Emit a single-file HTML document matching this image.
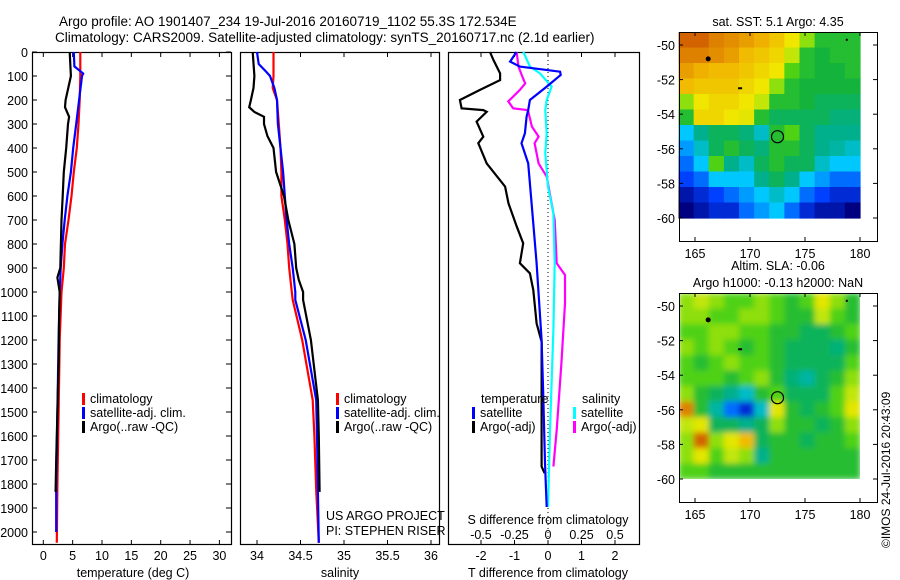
<!DOCTYPE html>
<html><head><meta charset="utf-8">
<style>
html,body{margin:0;padding:0;background:#fff;}
svg{display:block;font-family:"Liberation Sans",sans-serif;}
text{fill:#000;}
</style></head>
<body>
<svg id="fig" width="900" height="580" viewBox="0 0 900 580" xmlns="http://www.w3.org/2000/svg">
<defs>
<filter id="blur" x="-5%" y="-5%" width="110%" height="110%"><feGaussianBlur stdDeviation="3" edgeMode="duplicate"/></filter>
<clipPath id="slaclip"><rect x="679" y="293" width="181" height="186"/></clipPath>
</defs>
<text x="59" y="26" font-size="13.5">Argo profile: AO 1901407_234 19-Jul-2016 20160719_1102 55.3S 172.534E</text>
<text x="55" y="42" font-size="13.5">Climatology: CARS2009. Satellite-adjusted climatology: synTS_20160717.nc (2.1d earlier)</text>
<g id="g"></g>
<text transform="translate(890,548) rotate(-90)" font-size="12">©IMOS 24-Jul-2016 20:43:09</text>
</svg>
<script>
// ---------- DATA ----------
const depthTicks=[0,100,200,300,400,500,600,700,800,900,1000,1100,1200,1300,1400,1500,1600,1700,1800,1900,2000];
const tempTicks=[0,5,10,15,20,25,30];
const salTicks=[34,34.5,35,35.5,36];
const tdiffTicks=[-2,-1,0,1,2];
const sdiffTicks=[-0.5,-0.25,0,0.25,0.5];
const sdiffTickLabels=["-0.5","-0.25","0","0.25","0.5"];

const tClimDepth=[0,100,200,300,400,500,600,700,800,900,1000,1200,1500,1800,2045];
const tClim=[6.3,6.3,6.2,6.0,5.7,5.2,4.8,4.3,3.7,3.5,3.1,2.8,2.6,2.4,2.3];
const tSatDepth=[0,60,80,90,100,200,300,400,500,600,700,800,900,1000,1200,1500,1800,2000];
const tSat=[5.2,5.3,6.3,6.8,6.6,6.1,5.6,5.1,4.7,4.1,3.65,3.25,2.96,2.8,2.6,2.4,2.2,2.2];
const tArgoDepth=[0,100,200,230,270,300,400,500,600,700,800,900,940,1000,1100,1300,1500,1700,1833];
const tArgo=[4.5,4.7,3.8,3.7,4.4,4.2,3.9,3.5,3.3,3.1,3.0,2.9,2.4,2.8,2.7,2.6,2.4,2.2,2.1];

const sClimDepth=[0,100,150,200,300,400,500,600,700,800,900,1000,1033,1200,1450,1600,1825,2045];
const sClim=[34.19,34.19,34.18,34.23,34.25,34.27,34.28,34.28,34.32,34.35,34.37,34.4,34.41,34.52,34.64,34.66,34.68,34.71];
const sSatDepth=[0,50,80,100,150,200,300,400,500,600,700,800,900,1000,1033,1200,1450,1600,1825,2045];
const sSat=[34.0,34.02,34.1,34.15,34.2,34.23,34.24,34.27,34.3,34.32,34.34,34.37,34.41,34.44,34.44,34.56,34.68,34.69,34.70,34.71];
const sArgoDepth=[0,100,150,200,230,250,270,300,350,400,500,600,700,800,900,950,1000,1033,1200,1450,1600,1833];
const sArgo=[33.95,33.97,33.96,33.93,33.91,33.97,34.08,34.08,34.12,34.19,34.22,34.31,34.36,34.43,34.45,34.48,34.53,34.53,34.62,34.70,34.71,34.72];

const dTArgoDepth=[0,33,89,117,158,200,235,242,249,290,353,380,464,561,631,728,797,880,922,992,1131,1207,1727,1755];
const dTArgo=[-1.73,-1.63,-1.43,-1.43,-2.03,-2.63,-2.58,-1.93,-1.83,-2.13,-1.93,-2.08,-1.83,-1.28,-1.18,-0.93,-0.74,-0.84,-0.54,-0.44,-0.34,-0.19,-0.19,-0.1];
const dTSatDepth=[0,40,61,82,96,144,200,242,269,339,380,464,631,880,1200,1436,1714,1896];
const dTSat=[-0.94,-1.13,-0.84,0.36,0.38,-0.04,-0.54,-0.59,-0.64,-0.69,-0.79,-0.59,-0.49,-0.34,-0.19,-0.14,-0.09,-0.04];
const dSSatDepth=[0,61,89,144,200,242,339,422,561,672,880,1158,1575,1896];
const dSSat=[-0.184,-0.134,-0.06,0.027,-0.01,-0.02,-0.01,-0.02,0.0,0.04,0.05,0.04,0.015,0.0];
const dSArgoDepth=[0,61,96,131,158,206,235,242,311,353,380,464,519,631,700,880,929,1047,1297,1575,1727];
const dSArgo=[-0.234,-0.22,-0.196,-0.17,-0.21,-0.296,-0.26,-0.15,-0.12,-0.07,-0.1,-0.07,-0.01,0.027,0.05,0.065,0.127,0.127,0.1,0.065,0.04];

const mapLonTicks=[165,170,175,180];
const mapLatTicks=[-50,-52,-54,-56,-58,-60];
const sstGrid=[
[.95,.95,.9,.88,.85,.82,.78,.72,.6,.5,.5,.5],
[.9,.9,.88,.85,.8,.78,.75,.65,.5,.48,.5,.5],
[.85,.82,.8,.8,.78,.75,.72,.55,.5,.48,.48,.5],
[.8,.78,.78,.78,.75,.72,.6,.5,.48,.48,.48,.48],
[.6,.72,.75,.75,.72,.65,.5,.5,.48,.45,.45,.45],
[.5,.75,.75,.72,.7,.5,.45,.45,.45,.45,.42,.42],
[.3,.4,.45,.45,.42,.35,.5,.55,.45,.4,.4,.4],
[.25,.35,.45,.5,.45,.42,.5,.5,.45,.4,.38,.35],
[.2,.3,.55,.4,.35,.45,.5,.45,.45,.35,.3,.3],
[.15,.2,.3,.3,.3,.4,.45,.4,.3,.25,.2,.2],
[.05,.1,.15,.2,.25,.3,.35,.3,.2,.15,.1,.1],
[0,.05,.1,.1,.2,.25,.3,.2,.1,.05,.05,0]];
const slaGrid=[
[.6,.65,.6,.55,.55,.6,.55,.5,.55,.7,.6,.5],
[.6,.6,.55,.55,.6,.6,.55,.5,.5,.65,.55,.5],
[.55,.55,.6,.6,.55,.55,.5,.5,.45,.45,.5,.55],
[.6,.55,.6,.55,.5,.55,.5,.45,.45,.45,.42,.5],
[.55,.5,.55,.6,.55,.55,.5,.45,.45,.45,.45,.55],
[.55,.55,.55,.5,.55,.6,.5,.42,.38,.45,.5,.6],
[.6,.5,.45,.4,.35,.5,.55,.45,.45,.45,.55,.65],
[.9,.5,.38,.2,.1,.35,.7,.5,.45,.5,.55,.7],
[.65,.7,.45,.45,.4,.45,.6,.5,.5,.45,.5,.6],
[.6,.95,.6,.7,.8,.45,.5,.5,.45,.5,.5,.55],
[.6,.7,.55,.65,.6,.4,.5,.5,.5,.5,.5,.5],
[.55,.55,.5,.5,.5,.5,.5,.5,.5,.5,.5,.5]];
const floatLon=[172.5];
const floatLat=[-55.3];

// ---------- DRAW ----------
const NS="http://www.w3.org/2000/svg";
const G=document.getElementById('g');
function mk(tag,at,parent){const e=document.createElementNS(NS,tag);for(const k in at)e.setAttribute(k,at[k]);(parent||G).appendChild(e);return e;}
function txt(x,y,s,size,anchor){const t=mk('text',{x:x,y:y,'font-size':size||12,'text-anchor':anchor||'start'});t.textContent=s;return t;}

const Y=d=>52+0.24*d;
const xT=v=>43.3+5.87*v;
const xS=v=>257+87*(v-34);
const xDT=v=>548+33.5*v;
const xDS=v=>548+134*v;

function panel(x0,x1,name){
  const r=mk('rect',{x:x0+0.5,y:52.5,width:x1-x0,height:492,fill:'none',stroke:'#000','stroke-width':1.2});
  
  
}
function line(ds,vs,sx,color,name){
  let p='';ds.forEach((d,i)=>{p+=(i?'L':'M')+sx(vs[i]).toFixed(1)+' '+Y(d).toFixed(1);});
  const e=mk('path',{d:p,fill:'none',stroke:color,'stroke-width':2.2,'stroke-linejoin':'miter'});
  
  
}
function xticks(ticks,labels,sx,ty){
  ticks.forEach((t,i)=>{const x=sx(t);
    mk('line',{x1:x,x2:x,y1:545,y2:540,stroke:'#000'});
    mk('line',{x1:x,x2:x,y1:52,y2:57,stroke:'#000'});
    const l=txt(x,ty,labels[i],12.5,'middle');
    
    
  });
}

// panel 1
panel(32,231,'temperature-panel');
depthTicks.forEach(d=>{const y=Y(d);
  mk('line',{x1:32,x2:37,y1:y,y2:y,stroke:'#000'});
  mk('line',{x1:226,x2:231,y1:y,y2:y,stroke:'#000'});
  const l=txt(28,y+5,String(d),12.5,'end');
  
  
});
xticks(tempTicks,tempTicks.map(String),xT,560);
const xl1=txt(133,577,'temperature (deg C)',12.5,'middle');


line(tClimDepth,tClim,xT,'#ff0000','temp-climatology-line');
line(tSatDepth,tSat,xT,'#0000ff','temp-satellite-line');
line(tArgoDepth,tArgo,xT,'#000000','temp-argo-line');

// panel 2
panel(240,439,'salinity-panel');
xticks(salTicks,["34","34.5","35","35.5","36"],xS,560);
const xl2=txt(340,577,'salinity',12.5,'middle');


line(sClimDepth,sClim,xS,'#ff0000','sal-climatology-line');
line(sSatDepth,sSat,xS,'#0000ff','sal-satellite-line');
line(sArgoDepth,sArgo,xS,'#000000','sal-argo-line');
const c1=txt(326,520,'US ARGO PROJECT',12.5);


const c2=txt(326,535,'PI: STEPHEN RISER',12.5);



// panel 3
panel(448,639,'difference-panel');
mk('line',{x1:548,x2:548,y1:52,y2:545,stroke:'#000','stroke-dasharray':'1,3'});
xticks(tdiffTicks,tdiffTicks.map(String),xDT,560);
sdiffTicks.forEach((t,i)=>{const l=txt(xDS(t),539,sdiffTickLabels[i],12.5,'middle');
  
  });
const s3=txt(548,524,'S difference from climatology',12.5,'middle');


const t3=txt(548,577,'T difference from climatology',12.5,'middle');


line(dTArgoDepth,dTArgo,xDT,'#000000','tdiff-argo-line');
line(dSArgoDepth,dSArgo,xDS,'#ff00ff','sdiff-argo-line');
line(dSSatDepth,dSSat,xDS,'#00ffff','sdiff-satellite-line');
line(dTSatDepth,dTSat,xDT,'#0000ff','tdiff-satellite-line');

// legends
function legend(x,y,color,label){
  const g=mk('g',{});
  
  
  mk('rect',{x:x,y:y-10,width:3,height:12,fill:color},g);
  const t=mk('text',{x:x+8,y:y,'font-size':12.5},g);t.textContent=label;
}
legend(82,403,'#ff0000','climatology');
legend(82,417,'#0000ff','satellite-adj. clim.');
legend(82,431,'#000000','Argo(..raw -QC)');
legend(336,403,'#ff0000','climatology');
legend(336,417,'#0000ff','satellite-adj. clim.');
legend(336,431,'#000000','Argo(..raw -QC)');
const lt=txt(481,403,'temperature',12.5);
const ls=txt(582,403,'salinity',12.5);
legend(472,417,'#0000ff','satellite');
legend(472,431,'#000000','Argo(-adj)');
legend(573,417,'#00ffff','satellite');
legend(573,431,'#ff00ff','Argo(-adj)');

// ---------- MAPS ----------
const stops=[[0,[0,0,128]],[0.15,[0,64,255]],[0.3,[0,200,255]],[0.4,[0,176,140]],[0.48,[20,180,60]],[0.55,[80,210,20]],[0.63,[180,230,10]],[0.72,[240,230,0]],[0.82,[240,176,0]],[1,[200,70,0]]];
function cmap(v){for(let i=1;i<stops.length;i++){if(v<=stops[i][0]){const a=stops[i-1],b=stops[i];const f=(v-a[0])/(b[0]-a[0]);
  const c=a[1].map((q,k)=>Math.round(q+(b[1][k]-q)*f));return 'rgb('+c+')';}}return 'rgb(200,70,0)';}
function map(top,grid,name,title,smooth){
  const mx=l=>695+11*(l-165);
  const my=la=>top+13+17.3*(-50-la);
  const box={x0:679,x1:877,y0:top,y1:top+209};
  const g=mk('g',{});
  
  
  const lon0=163.5,lon1=180,lat0=-49.25,lat1=-60;
  const nr=grid.length,nc=grid[0].length;
  const cw=(mx(lon1)-mx(lon0))/nc, ch=(my(lat1)-my(lat0))/nr;
  const holder=mk('g',{},g);
  let cells=holder;
  if(smooth){holder.setAttribute('clip-path','url(#slaclip)');cells=mk('g',{filter:'url(#blur)'},holder);}
  grid.forEach((row,r)=>row.forEach((v,c)=>{
    const cell=mk('rect',{x:(mx(lon0)+c*cw).toFixed(2),y:(my(lat0)+r*ch).toFixed(2),width:(cw+0.6).toFixed(2),height:(ch+0.6).toFixed(2),fill:cmap(v)},cells);
    
    
  }));
  mk('rect',{x:box.x0+0.5,y:box.y0+0.5,width:box.x1-box.x0,height:box.y1-box.y0,fill:'none',stroke:'#000'},g);
  mapLonTicks.forEach(l=>{const x=mx(l);
    mk('line',{x1:x,x2:x,y1:box.y1,y2:box.y1-4,stroke:'#000'},g);
    mk('line',{x1:x,x2:x,y1:box.y0,y2:box.y0+4,stroke:'#000'},g);
    const t=mk('text',{x:x,y:box.y1+17,'font-size':12.5,'text-anchor':'middle'},g);t.textContent=String(l);});
  mapLatTicks.forEach(la=>{const y=my(la);
    mk('line',{x1:box.x0,x2:box.x0+4,y1:y,y2:y,stroke:'#000'},g);
    mk('line',{x1:box.x1,x2:box.x1-4,y1:y,y2:y,stroke:'#000'},g);
    const t=mk('text',{x:box.x0-4,y:y+5,'font-size':12.5,'text-anchor':'end'},g);t.textContent=String(la);});
  floatLon.forEach((l,i)=>{const c=mk('circle',{cx:mx(l),cy:my(floatLat[i]),r:6,fill:'none',stroke:'#000','stroke-width':1.2},g);
    
    });
  mk('circle',{cx:mx(166.2),cy:my(-50.8),r:2.5,fill:'#000'},g);
  mk('rect',{x:mx(169.1)-2,y:my(-52.5)-1,width:4,height:2,fill:'#000'},g);
  mk('rect',{x:mx(178.8)-1,y:my(-49.7)-1,width:2,height:2,fill:'#000'},g);
  title.forEach((s,i)=>{const t=mk('text',{x:778,y:top-(title.length-1-i)*17-6,'font-size':12.5,'text-anchor':'middle'},g);t.textContent=s;});
}
map(32,sstGrid,'sst-map',['sat. SST: 5.1  Argo: 4.35'],false);
map(293,slaGrid,'sla-map',['Altim. SLA: -0.06','Argo h1000: -0.13 h2000: NaN'],true);
</script>
</body></html>
